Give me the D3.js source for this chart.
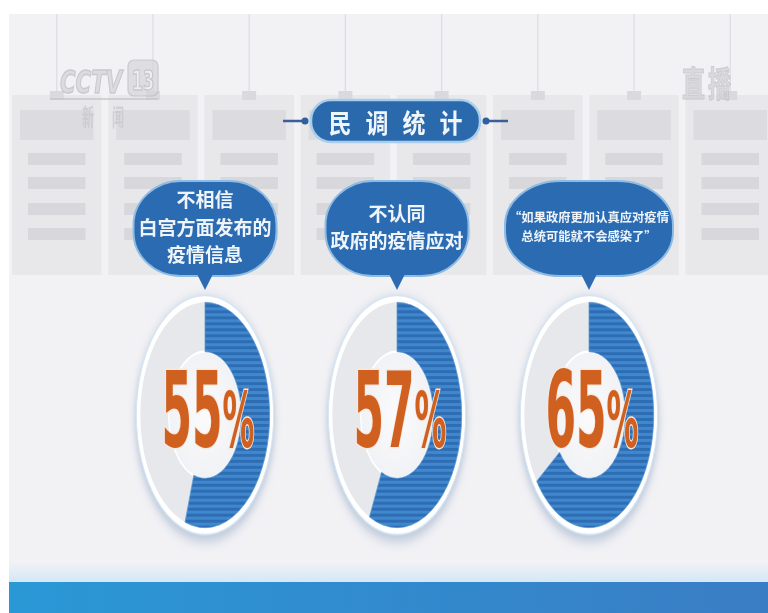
<!DOCTYPE html>
<html><head><meta charset="utf-8">
<script src="https://cdn.jsdelivr.net/npm/d3@7"></script>
<style>html,body{margin:0;padding:0;background:#fff;} svg{display:block}</style>
</head><body>
<svg id="c" width="768" height="613"></svg>
<script>
// ---- data ----
const title = "民调统计";
const categories = ["不相信白宫方面发布的疫情信息", "不认同政府的疫情应对", "“如果政府更加认真应对疫情总统可能就不会感染了”"];
const labelLines = [["不相信", "白宫方面发布的", "疫情信息"], ["不认同", "政府的疫情应对"], ["“如果政府更加认真应对疫情", "总统可能就不会感染了”"]];
const values = [55, 57, 65];
const valueLabels = ["55", "57", "65"];
const watermarkLeft = ["CCTV", "13", "新", "闻"];
const watermarkRight = "直播";

// ---- setup ----
const W = 768, H = 613;
const svg = d3.select("#c");
const defs = svg.append("defs");
const CJK = "'Noto Sans CJK SC','Noto Sans CJK JP',sans-serif";
const NARROW = "'Liberation Sans Narrow','DejaVu Sans Condensed','Roboto Condensed',sans-serif";

const pat = defs.append("pattern").attr("id", "stripe").attr("patternUnits", "userSpaceOnUse")
  .attr("width", 10).attr("height", 5.2);
pat.append("rect").attr("width", 10).attr("height", 5.2).attr("fill", "#4088cd");
pat.append("rect").attr("y", 2.6).attr("width", 10).attr("height", 2.6).attr("fill", "#2e6db4");

const blur = defs.append("filter").attr("id", "blur").attr("x", "-30%").attr("y", "-30%").attr("width", "160%").attr("height", "160%");
blur.append("feGaussianBlur").attr("stdDeviation", 5);
const soft = defs.append("filter").attr("id", "soft");
soft.append("feGaussianBlur").attr("stdDeviation", 0.7);

const barGrad = defs.append("linearGradient").attr("id", "barGrad");
barGrad.append("stop").attr("offset", "0%").attr("stop-color", "#2a98d6");
barGrad.append("stop").attr("offset", "100%").attr("stop-color", "#3a7dc5");
const fadeGrad = defs.append("linearGradient").attr("id", "fadeGrad").attr("x1", 0).attr("x2", 0).attr("y1", 0).attr("y2", 1);
fadeGrad.append("stop").attr("offset", "0%").attr("stop-color", "#f4f2f6");
fadeGrad.append("stop").attr("offset", "100%").attr("stop-color", "#d3e8f5");
const discGrad = defs.append("radialGradient").attr("id", "discGrad");
discGrad.append("stop").attr("offset", "0%").attr("stop-color", "#fbfbfc");
discGrad.append("stop").attr("offset", "100%").attr("stop-color", "#f1f2f5");

// ---- background ----
svg.append("rect").attr("width", W).attr("height", H).attr("fill", "#ffffff");
svg.append("rect").attr("x", 9).attr("y", 14).attr("width", W - 9).attr("height", 570).attr("fill", "#f2f2f5");

// decorative panels
const colScale = d3.scaleBand().domain(d3.range(8)).range([12, 775]).paddingInner(0.07);
const cols = svg.append("g");
colScale.domain().forEach(i => {
  const x = colScale(i), w = colScale.bandwidth();
  cols.append("line").attr("x1", x + w / 2).attr("x2", x + w / 2).attr("y1", 14).attr("y2", 94)
    .attr("stroke", "#dddde1").attr("stroke-width", 1.2);
  cols.append("rect").attr("x", x).attr("y", 95).attr("width", w).attr("height", 180).attr("fill", "#e8e8eb");
  cols.append("rect").attr("x", x + w / 2 - 7).attr("y", 91).attr("width", 14).attr("height", 9).attr("fill", "#dadade");
  cols.append("rect").attr("x", x + 8).attr("y", 110).attr("width", w - 16).attr("height", 30).attr("fill", "#dcdce0");
  [153, 177, 203, 228].forEach(y => {
    cols.append("rect").attr("x", x + 16).attr("y", y).attr("width", w - 32).attr("height", 12).attr("fill", "#d8d8dc");
  });
});

// watermarks
const wm = svg.append("g").attr("opacity", 0.7).attr("filter", "url(#soft)");
wm.append("text").attr("transform", "translate(60,93) scale(0.85,1.3)")
  .attr("font-family", "'DejaVu Sans',sans-serif").attr("font-weight", "bold").attr("font-style", "italic")
  .attr("font-size", 25).attr("fill", "#d2d2d7").attr("stroke", "#b9b9be").attr("stroke-width", 1.2)
  .text(watermarkLeft[0]);
wm.append("rect").attr("x", 128).attr("y", 60).attr("width", 30).attr("height", 36).attr("rx", 6)
  .attr("fill", "#d6d6da").attr("stroke", "#b9b9be").attr("stroke-width", 1.2);
wm.append("text").attr("transform", "translate(143,90) scale(0.9,1.35)").attr("text-anchor", "middle")
  .attr("font-family", NARROW).attr("font-weight", "bold").attr("font-size", 20).attr("fill", "#ececef")
  .attr("stroke", "#b5b5ba").attr("stroke-width", 1).text(watermarkLeft[1]);
wm.append("line").attr("x1", 50).attr("x2", 158).attr("y1", 99).attr("y2", 99).attr("stroke", "#c4c4c8").attr("stroke-width", 2);
[[88, watermarkLeft[2]], [118, watermarkLeft[3]]].forEach(([x, t]) => {
  wm.append("text").attr("transform", `translate(${x},126) scale(1,2)`).attr("text-anchor", "middle")
    .attr("font-family", CJK).attr("font-weight", "bold").attr("font-size", 12).attr("fill", "#c6c6cb").text(t);
});
wm.append("text").attr("transform", "translate(708,97) scale(1,1.55)").attr("text-anchor", "middle")
  .attr("font-family", CJK).attr("font-weight", "bold").attr("font-size", 23).attr("letter-spacing", 3)
  .attr("fill", "#d0d0d5").attr("stroke", "#bdbdc2").attr("stroke-width", 0.8).text(watermarkRight);

// bottom band
svg.append("rect").attr("x", 9).attr("y", 560).attr("width", W - 9).attr("height", 22).attr("fill", "url(#fadeGrad)");
svg.append("rect").attr("x", 9).attr("y", 582).attr("width", W - 9).attr("height", 31).attr("fill", "url(#barGrad)");

// ---- title pill ----
const tg = svg.append("g");
const pillX = 311, pillW = 169, pillY = 100, pillH = 42, pillCY = pillY + pillH / 2;
tg.append("line").attr("x1", 283).attr("x2", 303).attr("y1", pillCY).attr("y2", pillCY).attr("stroke", "#3b5f96").attr("stroke-width", 2.5);
tg.append("line").attr("x1", 488).attr("x2", 508).attr("y1", pillCY).attr("y2", pillCY).attr("stroke", "#3b5f96").attr("stroke-width", 2.5);
tg.append("circle").attr("cx", 305).attr("cy", pillCY).attr("r", 3.5).attr("fill", "#2f5f9e");
tg.append("circle").attr("cx", 486).attr("cy", pillCY).attr("r", 3.5).attr("fill", "#2f5f9e");
tg.append("rect").attr("x", pillX).attr("y", pillY).attr("width", pillW).attr("height", pillH).attr("rx", 20)
  .attr("fill", "#2b69ad").attr("stroke", "#a9cdec").attr("stroke-width", 2.5);
tg.append("text").attr("transform", `translate(${pillX + pillW / 2 + 7},${pillCY}) scale(1,1.15)`)
  .attr("text-anchor", "middle").attr("dominant-baseline", "central")
  .attr("font-family", CJK).attr("font-weight", "bold").attr("font-size", 23).attr("letter-spacing", 14)
  .attr("fill", "#eef5fb").text(title);

// ---- rings & bubbles ----
const xPos = d3.scalePoint().domain(categories).range([205, 589]);
const angle = d3.scaleLinear().domain([0, 100]).range([0, 2 * Math.PI]);
const ringCY = 415, sx = 0.66, sy = 1.15;
const arcGen = d3.arc();

categories.forEach((c, i) => {
  const cx = xPos(c);
  const lines = labelLines[i];
  const longest = d3.max(lines, l => l.length);
  const small = longest > 8;
  const fs = small ? 12.3 : 19;
  const lh = small ? 19 : 27.5;
  const g = svg.append("g");

  // bubble
  const bw = small ? 168 : 143, bh = 95, by = 181;
  const bg = g.append("g");
  bg.append("rect").attr("x", cx - bw / 2).attr("y", by).attr("width", bw).attr("height", bh)
    .attr("rx", bw * 0.33).attr("ry", 44)
    .attr("fill", "#2b6bb1").attr("stroke", "#8dbbe4").attr("stroke-width", 2);
  bg.append("path").attr("d", `M${cx - 8},${by + bh - 2} L${cx + 8},${by + bh - 2} L${cx},${by + bh + 14} Z`)
    .attr("fill", "#2b6bb1");
  const startY = 226 - (lines.length - 1) * lh / 2;
  lines.forEach((l, k) => {
    bg.append("text").attr("x", cx).attr("y", startY + k * lh)
      .attr("text-anchor", "middle").attr("dominant-baseline", "central")
      .attr("font-family", CJK).attr("font-weight", 700).attr("font-size", fs)
      .attr("fill", "#eef4fa").text(l);
  });

  // ring
  const rg = g.append("g").attr("transform", `translate(${cx},${ringCY}) scale(${sx},${sy})`);
  rg.append("circle").attr("r", 106).attr("cy", 4).attr("fill", "#bcc7d8").attr("filter", "url(#blur)");
  rg.append("circle").attr("r", 104).attr("fill", "#ffffff").attr("stroke", "#d4e6f5").attr("stroke-width", 1.5);
  rg.append("path").attr("d", arcGen({innerRadius: 55, outerRadius: 98, startAngle: 0, endAngle: 2 * Math.PI}))
    .attr("fill", "#e7e8ec");
  rg.append("circle").attr("r", 55).attr("fill", "url(#discGrad)").attr("stroke", "#ffffff").attr("stroke-width", 2);
  rg.append("path").attr("d", arcGen({innerRadius: 55, outerRadius: 98, startAngle: 0, endAngle: angle(values[i])}))
    .attr("fill", "url(#stripe)").attr("stroke", "#5b9ad6").attr("stroke-width", 0.8);

  // percent label
  const pt = g.append("text").attr("transform", `translate(${cx + 3},447) scale(0.74,1.6)`)
    .attr("text-anchor", "middle").attr("font-family", NARROW).attr("font-weight", "bold")
    .attr("fill", "#d0601f").attr("stroke", "#f6e9e0").attr("stroke-width", 1.8).attr("paint-order", "stroke");
  pt.append("tspan").attr("font-size", 66).text(valueLabels[i]);
  pt.append("tspan").attr("font-size", 48).text("%");
});
</script>
</body></html>
